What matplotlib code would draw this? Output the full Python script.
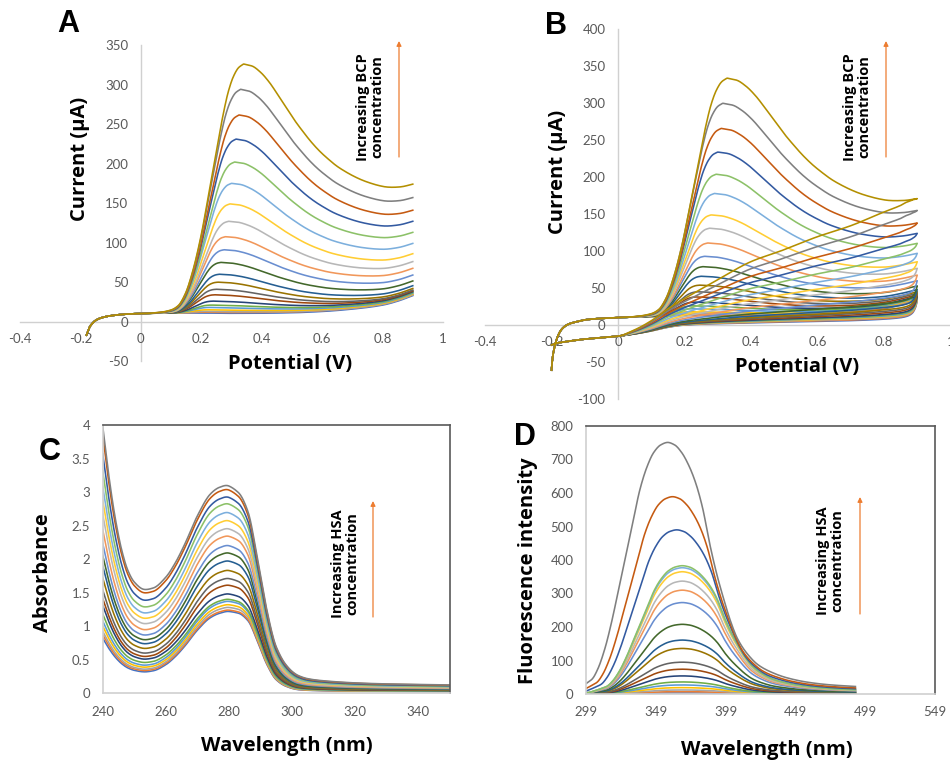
import numpy as np
import matplotlib
matplotlib.use("Agg")
import matplotlib.pyplot as plt
from matplotlib.patches import FancyArrowPatch

plt.rcParams['font.family'] = ['Lato', 'DejaVu Sans']

W, H = 950, 761

# ---------------- colours (Excel series order 1..22) ----------------
series_colors = ["#4472C4", "#ED7D31", "#A5A5A5", "#FFC000", "#5B9BD5", "#70AD47",
                 "#264478", "#9E480E", "#636363", "#997300", "#255E91", "#43682B",
                 "#698ED0", "#F1975A", "#B7B7B7", "#FFCD33", "#7CAFDD", "#8CC168",
                 "#335AA1", "#C55A11", "#7F7F7F", "#B38F00"]

# ---------------- Panel A : LSV ----------------
peaks_A = [11, 12, 13, 15, 18, 21, 26, 34, 41, 50, 60, 75, 91, 107.5, 127, 149, 175, 202, 231, 261.5, 294, 326]
peakpos_A = [0.21, 0.215, 0.22, 0.225, 0.23, 0.235, 0.24, 0.245, 0.25, 0.255, 0.26, 0.265,
             0.275, 0.28, 0.29, 0.295, 0.30, 0.31, 0.315, 0.325, 0.33, 0.34]
ends_A = [33, 34, 34, 35, 36, 37, 38, 39, 40, 42, 45.5, 51.5, 59, 67.5, 76, 86, 99, 113, 127, 141, 157, 174]
baseA_x = [-0.18, -0.175, -0.17, -0.16, -0.15, -0.13, -0.1, -0.05, 0.0, 0.1, 0.2, 0.3, 0.4, 0.5, 0.6, 0.7, 0.8, 0.85, 0.9]
baseA_y = [-17, -12, -7, -2, 1.5, 5, 7.5, 9.5, 10.3, 11, 10.5, 10, 10, 10.5, 12, 15, 20, 25, 32]

# rising-edge profile (normalised) and decay profile
rise_t = [-0.3, -0.15, 0.0, 0.1, 0.2, 0.3, 0.42, 0.52, 0.625, 0.72, 0.79, 0.86, 0.93, 1.0]
rise_v = [0.0, 0.003, 0.012, 0.03, 0.08, 0.17, 0.32, 0.48, 0.65, 0.80, 0.89, 0.95, 0.985, 1.0]
decay_s = [0.0, 0.05, 0.1, 0.15, 0.2, 0.25, 0.3, 0.35, 0.4, 0.45, 0.5, 0.55, 0.6, 0.65, 0.7,
           0.75, 0.8, 0.85, 0.9, 0.95, 1.0]
decay_v = [1.0, 0.985, 0.94, 0.87, 0.78, 0.685, 0.59, 0.505, 0.425, 0.355, 0.295, 0.24, 0.195,
           0.155, 0.12, 0.09, 0.063, 0.04, 0.022, 0.008, 0.0]

# ---------------- Panel B : CV ----------------
peaks_B = [13, 14, 16, 18, 22, 26, 31, 38, 45, 54, 66, 79, 93, 111, 131, 149, 178, 204, 234, 266, 300, 334]
peakpos_B = [0.20, 0.205, 0.21, 0.215, 0.22, 0.225, 0.23, 0.235, 0.24, 0.245, 0.25, 0.255,
             0.26, 0.27, 0.275, 0.28, 0.29, 0.295, 0.30, 0.31, 0.315, 0.328]
ends_B = [33, 34, 35, 36, 37, 38, 39, 41, 43, 45, 48, 53, 60, 67.6, 76.7, 85.6, 97, 110.5, 124, 138, 155, 171]
baseB_x = [-0.2, -0.197, -0.19, -0.18, -0.17, -0.15, -0.12, -0.1, -0.05, 0.0, 0.1, 0.2, 0.3, 0.4, 0.5, 0.6, 0.7, 0.8, 0.85, 0.9]
baseB_y = [-61, -45, -28, -14, -6, 1, 5, 7, 9, 10, 11.5, 11, 10.5, 10.5, 11, 12.5, 15.5, 21, 26, 32]
revB_x = [-0.2, -0.18, -0.15, -0.1, -0.05, 0.0, 0.05, 0.1, 0.12, 0.15, 0.2, 0.3, 0.4, 0.5, 0.6, 0.7, 0.8, 0.85, 0.87, 0.885, 0.895, 0.9]
revB_low = [-27, -24, -22, -19, -17, -15, -12, -8, -6, -3, 0, 2, 3, 4, 5, 6, 8, 10, 12, 16, 24, 33]
revB_shape = [0, 0, 0, 0, 0, 0, 0.04, 0.1, 0.13, 0.18, 0.26, 0.43, 0.6, 0.71, 0.83, 0.93, 1.05, 1.1, 1.12, 1.11, 1.06, 1.0]

# ---------------- Panel C : UV absorbance ----------------
minima_C = [0.32, 0.34, 0.36, 0.39, 0.42, 0.46, 0.51, 0.55, 0.60, 0.67, 0.74, 0.80, 0.87, 0.95,
            1.04, 1.12, 1.20, 1.29, 1.39, 1.50, 1.55]
peaks_C = [1.22, 1.24, 1.28, 1.32, 1.37, 1.40, 1.48, 1.61, 1.71, 1.83, 1.97, 2.09, 2.20, 2.34,
           2.45, 2.57, 2.69, 2.82, 2.92, 3.03, 3.09]
bgC_lam = [240, 242, 244, 246, 248, 250, 253, 256, 260, 265, 270, 275, 280, 285, 290, 295, 300, 305, 310, 320, 330, 340, 350]
bgC_val = [2.57, 2.08, 1.68, 1.38, 1.18, 1.07, 1.0, 0.99, 0.98, 0.96, 0.93, 0.9, 0.85, 0.75, 0.55, 0.33, 0.2, 0.14, 0.12, 0.1, 0.09, 0.085, 0.08]
pkC_lam = [240, 253, 256, 260, 263, 266, 270, 274, 277, 280, 283, 286, 289, 292, 295, 298, 302, 350]
pkC_val = [0, 0, 0.02, 0.12, 0.25, 0.42, 0.68, 0.88, 0.96, 1.0, 0.99, 0.90, 0.62, 0.30, 0.10, 0.03, 0, 0]

# ---------------- Panel D : fluorescence ----------------
peaks_D = [3, 7, 12, 19, 27, 36, 54, 74, 95, 136, 161, 208, 273, 310, 337, 365, 377, 383, 490, 589, 751]
peakpos_D = [368] * 18 + [364, 361, 357.5]
shapeD_off = [-80, -68, -62, -58, -54, -50, -45, -40, -35, -30, -25, -20, -15, -10, -5, 0,
              5, 10, 15, 20, 25, 30, 35, 40, 45, 50, 57, 65, 75, 85, 100, 115, 140]
shapeD_val = [0.0, 0.01, 0.028, 0.043, 0.06, 0.1, 0.18, 0.29, 0.42, 0.55, 0.68, 0.81, 0.9, 0.96, 0.99, 1.0,
              0.99, 0.96, 0.91, 0.84, 0.74, 0.6, 0.48, 0.38, 0.29, 0.22, 0.16, 0.115, 0.085, 0.065, 0.047, 0.037, 0.028]


def pchip(xk, yk, x):
    xk = np.asarray(xk, float)
    yk = np.asarray(yk, float)
    x = np.clip(np.asarray(x, float), xk[0], xk[-1])
    h = np.diff(xk)
    d = np.diff(yk) / h
    m = np.zeros_like(yk)
    m[0], m[-1] = d[0], d[-1]
    for k in range(1, len(xk) - 1):
        if d[k - 1] * d[k] > 0:
            w1 = 2 * h[k] + h[k - 1]
            w2 = h[k] + 2 * h[k - 1]
            m[k] = (w1 + w2) / (w1 / d[k - 1] + w2 / d[k])
    i = np.clip(np.searchsorted(xk, x) - 1, 0, len(h) - 1)
    t = (x - xk[i]) / h[i]
    h00 = 2 * t**3 - 3 * t**2 + 1
    h10 = t**3 - 2 * t**2 + t
    h01 = -2 * t**3 + 3 * t**2
    h11 = t**3 - t**2
    return h00 * yk[i] + h10 * h[i] * m[i] + h01 * yk[i + 1] + h11 * h[i] * m[i + 1]


def forward(x, bx, by, peak, xp, end, x0=0.1):
    base = pchip(bx, by, x)
    hgt = peak - pchip(bx, by, [xp])[0]
    r = (end - pchip(bx, by, [0.9])[0]) / hgt
    y = base.copy()
    left = x <= xp
    t = (x[left] - x0) / (xp - x0)
    y[left] += hgt * pchip(rise_t, rise_v, t) * (t >= rise_t[0])
    s = (x[~left] - xp) / (0.9 - xp)
    y[~left] += hgt * (r + (1 - r) * pchip(decay_s, decay_v, s))
    return y


def px_axes(x0, y0, x1, y1):
    return fig.add_axes([x0 / W, 1 - y1 / H, (x1 - x0) / W, (y1 - y0) / H])


TICK = dict(length=0, labelsize=9.5, labelcolor='#595959')
LIGHT = '#D0D0D0'
DARK = '#595959'


def cross_style(ax, xt, xl, yt, yl):
    for s in ['top', 'right']:
        ax.spines[s].set_visible(False)
    for s in ['left', 'bottom']:
        ax.spines[s].set_position(('data', 0))
        ax.spines[s].set_color(LIGHT)
        ax.spines[s].set_linewidth(1.0)
        ax.spines[s].set_zorder(1)
    ax.set_xticks(xt, xl)
    ax.set_yticks(yt, yl)
    ax.tick_params(axis='x', pad=8, **TICK)
    ax.tick_params(axis='y', pad=9, **TICK)
    ax.patch.set_alpha(0)


def box_style(ax, xt, xl, yt, yl):
    ax.spines['left'].set_color(LIGHT)
    ax.spines['bottom'].set_color(LIGHT)
    ax.spines['top'].set_color(DARK)
    ax.spines['right'].set_color(DARK)
    for s in ax.spines.values():
        s.set_linewidth(1.2)
    ax.set_xticks(xt, xl)
    ax.set_yticks(yt, yl)
    ax.tick_params(axis='x', pad=9, **TICK)
    ax.tick_params(axis='y', pad=9, **TICK)


fig = plt.figure(figsize=(W / 100, H / 100), dpi=100)

xt_cv = [-0.4, -0.2, 0, 0.2, 0.4, 0.6, 0.8, 1.0]
xl_cv = ["-0.4", "-0.2", "0", "0.2", "0.4", "0.6", "0.8", "1"]

# ---- A ----
axA = px_axes(20, 45, 443, 361.2)
axA.set_xlim(-0.4, 1.0)
axA.set_ylim(-50, 350)
xa = np.linspace(-0.18, 0.9, 600)
for i in range(len(peaks_A)):
    axA.plot(xa, forward(xa, baseA_x, baseA_y, peaks_A[i], peakpos_A[i], ends_A[i]),
             color=series_colors[i], lw=1.15, zorder=3)
yt = list(range(-50, 351, 50))
cross_style(axA, xt_cv, xl_cv, yt, [str(v) for v in yt])

# ---- B ----
axB = px_axes(485, 29.3, 950.5, 399)
axB.set_xlim(-0.4, 1.0)
axB.set_ylim(-100, 400)
xf = np.linspace(-0.2, 0.9, 600)
xr = xf[::-1]
for i in range(len(peaks_B)):
    yf = forward(xf, baseB_x, baseB_y, peaks_B[i], peakpos_B[i], ends_B[i])
    e = ends_B[i] - revB_low[-1]
    yr = pchip(revB_x, revB_low, xr) + e * pchip(revB_x, revB_shape, xr)
    axB.plot(np.concatenate([xf, xr]), np.concatenate([yf, yr]),
             color=series_colors[i], lw=1.15, zorder=3)
yt = list(range(-100, 401, 50))
cross_style(axB, xt_cv, xl_cv, yt, [str(v) for v in yt])

# ---- C ----
axC = px_axes(102.7, 425, 450, 693.3)
axC.set_xlim(240, 350)
axC.set_ylim(0, 4)
lam = np.linspace(240, 350, 500)
bg = pchip(bgC_lam, bgC_val, lam)
pk = pchip(pkC_lam, pkC_val, lam)
bg280 = pchip(bgC_lam, bgC_val, [280])[0]
for i in range(len(peaks_C)):
    q = peaks_C[i] - minima_C[i] * bg280
    axC.plot(lam, minima_C[i] * bg + q * pk, color=series_colors[i], lw=1.15)
box_style(axC, [240, 260, 280, 300, 320, 340], ["240", "260", "280", "300", "320", "340"],
          np.arange(0, 4.01, 0.5), ["0", "0.5", "1", "1.5", "2", "2.5", "3", "3.5", "4"])

# ---- D ----
axD = px_axes(586, 426, 935, 694)
axD.set_xlim(299, 549)
axD.set_ylim(0, 800)
lamD = np.linspace(299, 492, 500)
for i in range(len(peaks_D)):
    axD.plot(lamD, peaks_D[i] * pchip(shapeD_off, shapeD_val, lamD - peakpos_D[i]),
             color=series_colors[i], lw=1.15)
box_style(axD, [299, 349, 399, 449, 499, 549], ["299", "349", "399", "449", "499", "549"],
          list(range(0, 801, 100)), [str(v) for v in range(0, 801, 100)])


# ---------------- texts ----------------
def ftext(x, y, s, **kw):
    fig.text(x / W, 1 - y / H, s, ha='center', va='center', **kw)


TITLE = dict(fontsize=14.5, fontweight='bold', color='black', family=['Open Sans', 'DejaVu Sans'])
ftext(290, 364, "Potential (V)", **TITLE)
ftext(80, 159, "Current (µA)", rotation=90, **TITLE)
ftext(797, 367, "Potential (V)", **TITLE)
ftext(558, 172, "Current (µA)", rotation=90, **TITLE)
ftext(287, 746, "Wavelength (nm)", **TITLE)
ftext(43, 573, "Absorbance", rotation=90, **TITLE)
ftext(767, 750, "Wavelength (nm)", **TITLE)
ftext(528, 571, "Fluorescence intensity", rotation=90, **TITLE)

LET = dict(fontsize=22, fontweight='bold', family=['Liberation Sans', 'DejaVu Sans'])
ftext(68, 24, "A", **LET)
ftext(556, 26, "B", **LET)
ftext(50, 452, "C", **LET)
ftext(525, 437, "D", **LET)

ANN = dict(fontsize=10.5, fontweight='bold', rotation=90, multialignment='center', linespacing=1.05,
           family=['Open Sans', 'DejaVu Sans'])
ftext(370, 107, "Increasing BCP\nconcentration", **ANN)
ftext(857, 107, "Increasing BCP\nconcentration", **ANN)
ftext(345, 564, "Increasing HSA\nconcentration", **ANN)
ftext(830, 561, "Increasing HSA\nconcentration", **ANN)


def farrow(x, y0, y1):
    fig.add_artist(FancyArrowPatch((x / W, 1 - y0 / H), (x / W, 1 - y1 / H), transform=fig.transFigure,
                                   arrowstyle='-|>', mutation_scale=7, color='#ED7D31', lw=0.9,
                                   shrinkA=0, shrinkB=0))


farrow(399, 157, 41)
farrow(886, 157, 41)
farrow(373, 617, 501)
farrow(860, 614, 497)

fig.savefig("out.png", dpi=100)
